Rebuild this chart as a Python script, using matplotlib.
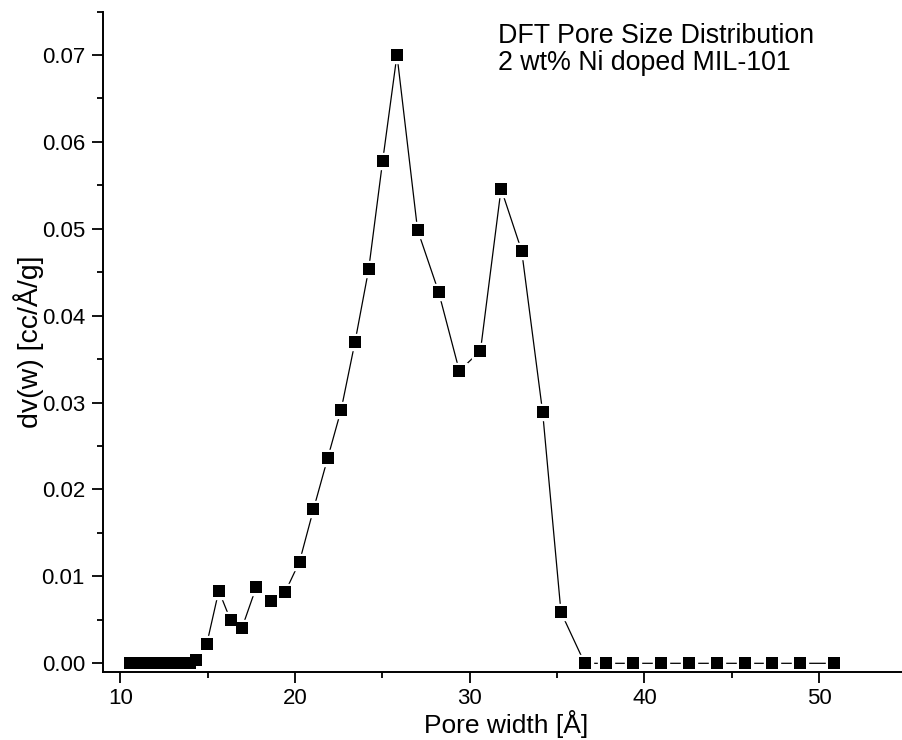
import matplotlib
matplotlib.use("Agg")
import matplotlib.pyplot as plt
from matplotlib.ticker import MultipleLocator, FormatStrFormatter

plt.rcParams['font.family'] = ['Liberation Sans', 'DejaVu Sans']

pore_width = [10.56, 10.9, 11.25, 11.6, 11.95, 12.3, 12.6, 12.95, 13.3, 13.65, 13.99,
              14.32, 14.94, 15.63, 16.30, 16.95, 17.77, 18.64, 19.44, 20.25,
              21.05, 21.87, 22.63, 23.43, 24.21, 25.01, 25.83, 27.01, 28.21,
              29.40, 30.61, 31.79, 32.97, 34.17, 35.22, 36.58, 37.78, 39.36,
              40.96, 42.55, 44.14, 45.74, 47.32, 48.91, 50.86]
dvw = [0.0, 0.0, 0.0, 0.0, 0.0, 0.0, 0.0, 0.0, 0.0, 0.0, 0.0,
       0.0004, 0.00222, 0.00835, 0.00498, 0.00403, 0.00875, 0.00713, 0.00824, 0.01169,
       0.01772, 0.02366, 0.02915, 0.0370, 0.04534, 0.0578, 0.0700, 0.04986, 0.04276,
       0.03364, 0.03597, 0.05461, 0.04745, 0.02888, 0.00587, 0.0, 0.0, 0.0,
       0.0, 0.0, 0.0, 0.0, 0.0, 0.0, 0.0]

annotation_lines = ["DFT Pore Size Distribution", "2 wt% Ni doped MIL-101"]

fig = plt.figure(figsize=(9.03, 7.40), dpi=100)
ax = fig.add_axes([103/903, 1-672/740, 1-103/903, (672-11.5)/740])

ax.plot(pore_width, dvw, color='black', lw=0.9, zorder=1)
ax.plot(pore_width, dvw, ls='none', marker='s', ms=11.5, mfc='white', mec='white', zorder=2)
ax.plot(pore_width, dvw, ls='none', marker='s', ms=8.4, mfc='black', mec='black', mew=0, zorder=3)

ax.set_xlim(9, 54.8)
ax.set_ylim(-0.001, 0.075)
ax.xaxis.set_major_locator(MultipleLocator(10))
ax.xaxis.set_minor_locator(MultipleLocator(5))
ax.yaxis.set_major_locator(MultipleLocator(0.01))
ax.yaxis.set_minor_locator(MultipleLocator(0.005))
ax.yaxis.set_major_formatter(FormatStrFormatter('%.2f'))

for s in ['top', 'right']:
    ax.spines[s].set_visible(False)
for s in ['left', 'bottom']:
    ax.spines[s].set_linewidth(1.4)
ax.tick_params(which='major', direction='out', length=8, width=1.3, labelsize=16, pad=5)
ax.tick_params(axis='x', which='major', pad=3.5)
ax.tick_params(which='minor', direction='out', length=4.5, width=1.3)

xl = ax.set_xlabel('Pore width [Å]', fontsize=19)
xl.set_verticalalignment('baseline')
ax_h_px = 672 - 11.5
ax.xaxis.set_label_coords((506 - 103) / 800, -(733 - 672) / ax_h_px)
ax.set_ylabel('dv(w) [cc/Å/g]', fontsize=20.5, labelpad=-2)

fig.text(498/903, 1-43/740, annotation_lines[0], fontsize=19.3, va='baseline', ha='left')
fig.text(498/903, 1-70/740, annotation_lines[1], fontsize=19.3, va='baseline', ha='left')

fig.savefig('out.png', dpi=100)
